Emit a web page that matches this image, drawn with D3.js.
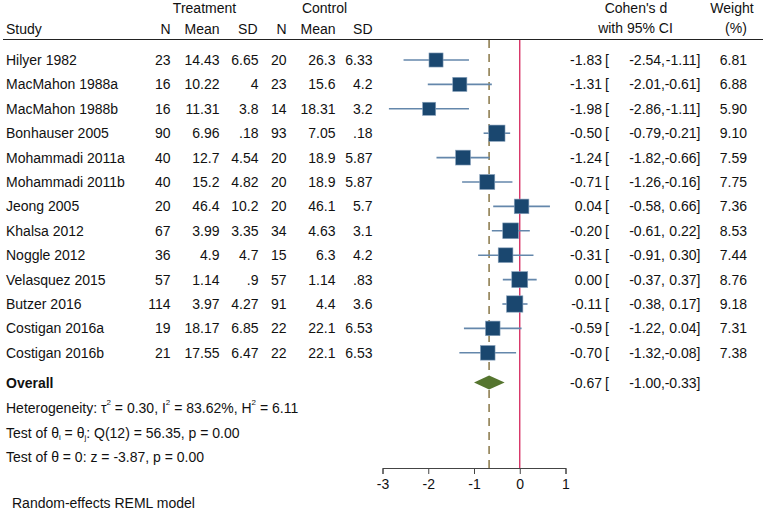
<!DOCTYPE html>
<html><head><meta charset="utf-8">
<script src="https://cdn.jsdelivr.net/npm/d3@7"></script>
<style>body{margin:0;background:#fff}svg text{font-family:"Liberation Sans",Arial,sans-serif;font-size:14px;fill:#111}</style>
</head><body>
<svg id="c" width="767" height="512"></svg>
<script>
const studies = ["Hilyer 1982","MacMahon 1988a","MacMahon 1988b","Bonhauser 2005","Mohammadi 2011a","Mohammadi 2011b","Jeong 2005","Khalsa 2012","Noggle 2012","Velasquez 2015","Butzer 2016","Costigan 2016a","Costigan 2016b"];
const tN    = ["23","16","16","90","40","40","20","67","36","57","114","19","21"];
const tMean = ["14.43","10.22","11.31","6.96","12.7","15.2","46.4","3.99","4.9","1.14","3.97","18.17","17.55"];
const tSD   = ["6.65","4","3.8",".18","4.54","4.82","10.2","3.35","4.7",".9","4.27","6.85","6.47"];
const cN    = ["20","23","14","93","20","20","20","34","15","57","91","22","22"];
const cMean = ["26.3","15.6","18.31","7.05","18.9","18.9","46.1","4.63","6.3","1.14","4.4","22.1","22.1"];
const cSD   = ["6.33","4.2","3.2",".18","5.87","5.87","5.7","3.1","4.2",".83","3.6","6.53","6.53"];
const effect = [-1.83,-1.31,-1.98,-0.50,-1.24,-0.71,0.04,-0.20,-0.31,0.00,-0.11,-0.59,-0.70];
const lower  = [-2.54,-2.01,-2.86,-0.79,-1.82,-1.26,-0.58,-0.61,-0.91,-0.37,-0.38,-1.22,-1.32];
const upper  = [-1.11,-0.61,-1.11,-0.21,-0.66,-0.16,0.66,0.22,0.30,0.37,0.17,0.04,-0.08];
const weight = [6.81,6.88,5.90,9.10,7.59,7.75,7.36,8.53,7.44,8.76,9.18,7.31,7.38];
const overall = {est:-0.67, lo:-1.00, hi:-0.33};
const xTicks = [-3,-2,-1,0,1];

const svg = d3.select("#c");
const x = d3.scaleLinear().domain([-3,1]).range([382.5,565.5]);
const y = d3.scaleLinear().domain([0,12]).range([60,352.8]);
const f2 = v => v.toFixed(2);

const T = (xx,yy,t,anchor,extra) => {
  const el = svg.append("text").attr("x",xx).attr("y",yy).attr("text-anchor",anchor||"start").attr("dominant-baseline","central").text(t);
  if(extra) extra(el); return el;
};
// header
T(204.5,8,"Treatment","middle");
T(324.5,8,"Control","middle");
T(6,29,"Study");
T(170.5,29,"N","end"); T(219.5,29,"Mean","end"); T(257.5,29,"SD","end");
T(286.5,29,"N","end"); T(335.5,29,"Mean","end"); T(372.5,29,"SD","end");
T(636,8,"Cohen's d","middle"); T(635.5,28,"with 95% CI","middle");
T(732,8,"Weight","middle"); T(736,28,"(%)","middle");
svg.append("line").attr("x1",3).attr("x2",763).attr("y1",39.5).attr("y2",39.5).attr("stroke","#222").attr("stroke-width",1.2);

// reference lines
svg.append("line").attr("x1",x(0)).attr("x2",x(0)).attr("y1",40).attr("y2",468).attr("stroke","#d4245a").attr("stroke-width",1.3);
svg.append("line").attr("x1",x(overall.est)).attr("x2",x(overall.est)).attr("y1",40).attr("y2",468)
  .attr("stroke","#8f7e52").attr("stroke-width",1.6).attr("stroke-dasharray","8,6");

// rows
studies.forEach((s,i)=>{
  const yy = y(i);
  T(6,yy,s);
  T(170.5,yy,tN[i],"end"); T(219.5,yy,tMean[i],"end"); T(258.5,yy,tSD[i],"end");
  T(286.5,yy,cN[i],"end"); T(335.5,yy,cMean[i],"end"); T(372.5,yy,cSD[i],"end");
  T(602,yy,f2(effect[i]),"end");
  T(605,yy,"[");
  T(665,yy,f2(lower[i])+",","end");
  T(700.5,yy,f2(upper[i])+"]","end");
  T(747,yy,f2(weight[i]),"end");
});
svg.append("g").selectAll("line").data(studies).join("line")
  .attr("x1",(d,i)=>x(lower[i])).attr("x2",(d,i)=>x(upper[i]))
  .attr("y1",(d,i)=>y(i)).attr("y2",(d,i)=>y(i))
  .attr("stroke","#6487ab").attr("stroke-width",1.6);
svg.append("g").selectAll("rect").data(studies).join("rect")
  .attr("x",(d,i)=>x(effect[i]) - 2.7*Math.sqrt(weight[i]))
  .attr("y",(d,i)=>y(i) - 2.7*Math.sqrt(weight[i]))
  .attr("width",(d,i)=>5.4*Math.sqrt(weight[i]))
  .attr("height",(d,i)=>5.4*Math.sqrt(weight[i]))
  .attr("fill","#1a476f").attr("stroke","#8aa3bd").attr("stroke-width",0.6);

// overall
const oy = 382.5;
T(6,oy,"Overall",null,e=>e.attr("font-weight","bold"));
svg.append("path").attr("d",`M${x(overall.lo)},${oy} L${x(overall.est)},${oy-7} L${x(overall.hi)},${oy} L${x(overall.est)},${oy+7} Z`).attr("fill","#55752f");
T(602,oy,f2(overall.est),"end"); T(605,oy,"[");
T(665,oy,f2(overall.lo)+",","end"); T(700.5,oy,f2(overall.hi)+"]","end");

// heterogeneity lines
const sup = (el,txt)=>el.append("tspan").attr("font-size","8px").attr("dy","-6").text(txt);
const back = (el,txt)=>el.append("tspan").attr("dy","6").text(txt);
let h = svg.append("text").attr("x",6).attr("y",408).attr("dominant-baseline","central");
h.append("tspan").text("Heterogeneity: \u03c4");
sup(h,"2"); back(h," = 0.30, I"); sup(h,"2"); back(h," = 83.62%, H"); sup(h,"2"); back(h," = 6.11");
let q = svg.append("text").attr("x",6).attr("y",433).attr("dominant-baseline","central");
q.append("tspan").text("Test of \u03b8");
q.append("tspan").attr("font-size","8px").attr("dy","4").text("i");
q.append("tspan").attr("dy","-4").text(" = \u03b8");
q.append("tspan").attr("font-size","8px").attr("dy","4").text("j");
q.append("tspan").attr("dy","-4").text(": Q(12) = 56.35, p = 0.00");
T(6,457,"Test of \u03b8 = 0: z = -3.87, p = 0.00");
T(12,503,"Random-effects REML model");

// axis
const ax = svg.append("g").attr("transform","translate(0,468)")
  .call(d3.axisBottom(x).tickValues(xTicks).tickSizeOuter(0).tickSize(6).tickPadding(5).tickFormat(d=>String(d)));
ax.select(".domain").attr("stroke","#444");
ax.selectAll(".tick line").attr("stroke","#444");
ax.selectAll("text").style("font-size","14px").attr("fill","#111");
</script>
</body></html>
